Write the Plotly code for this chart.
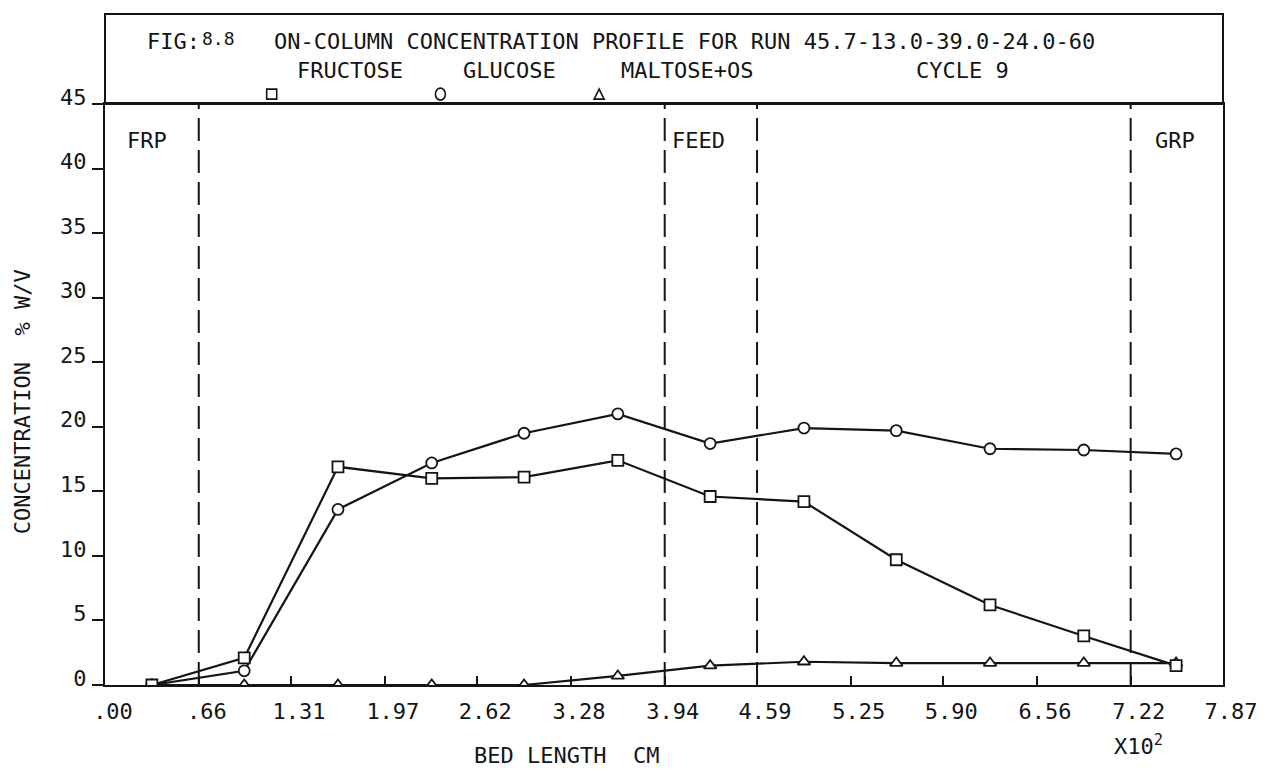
import plotly.graph_objects as go

# Bed position of each sampling port (units of 10^2 cm)
bed_position = [0.33, 0.98, 1.64, 2.30, 2.95, 3.61, 4.26, 4.92, 5.57, 6.23, 6.89, 7.54]

# Concentrations, % w/v
fructose = [0.0, 2.1, 16.9, 16.0, 16.1, 17.4, 14.6, 14.2, 9.7, 6.2, 3.8, 1.5]
glucose = [0.0, 1.1, 13.6, 17.2, 19.5, 21.0, 18.7, 19.9, 19.7, 18.3, 18.2, 17.9]
maltose_os = [0.0, 0.0, 0.0, 0.0, 0.0, 0.7, 1.5, 1.8, 1.7, 1.7, 1.7, 1.7]

# Zone boundaries (10^2 cm)
zone_bounds = [0.66, 3.94, 4.59, 7.22]
zone_labels = [("FRP", 0.14, "left"), ("FEED", 3.98, "left"), ("GRP", 7.69, "right")]

x_ticktext = [".00", ".66", "1.31", "1.97", "2.62", "3.28", "3.94",
              "4.59", "5.25", "5.90", "6.56", "7.22", "7.87"]
y_ticks = [0, 5, 10, 15, 20, 25, 30, 35, 40, 45]

FONT = "DejaVu Sans Mono, Liberation Mono, monospace"
INK = "#151515"
FS = 22

fig = go.Figure()

series = [
    ("MALTOSE+OS", maltose_os, "triangle-up"),
    ("GLUCOSE", glucose, "circle"),
    ("FRUCTOSE", fructose, "square"),
]
for name, vals, sym in series:
    fig.add_trace(go.Scatter(
        x=bed_position, y=vals, name=name, mode="lines+markers",
        line=dict(color=INK, width=2.2),
        marker=dict(symbol=sym, size=11, color="white",
                    line=dict(color=INK, width=1.8)),
    ))

shapes = []
for xb in zone_bounds:
    shapes.append(dict(type="line", xref="x", yref="paper", x0=xb, x1=xb,
                       y0=0, y1=1, line=dict(color=INK, width=2, dash="23px,9px")))

# header box above the plot
TOP = 1.155
shapes.append(dict(type="rect", xref="paper", yref="paper", x0=0, x1=1,
                   y0=1, y1=TOP, line=dict(color=INK, width=2)))

# legend glyphs in the header
def px2x(px):
    return (px - 105) / 1120.0

LEG_Y = 1.017
shapes.append(dict(type="rect", xref="paper", yref="paper", xsizemode="pixel",
                   ysizemode="pixel", xanchor=px2x(272), yanchor=LEG_Y,
                   x0=-5, x1=5, y0=-5, y1=5, line=dict(color=INK, width=1.6)))
shapes.append(dict(type="circle", xref="paper", yref="paper", xsizemode="pixel",
                   ysizemode="pixel", xanchor=px2x(441), yanchor=LEG_Y,
                   x0=-5, x1=5, y0=-6, y1=6, line=dict(color=INK, width=1.6)))
shapes.append(dict(type="path", xref="paper", yref="paper", xsizemode="pixel",
                   ysizemode="pixel", xanchor=px2x(600), yanchor=LEG_Y,
                   path="M -5,-5 L 5,-5 L 0,5 Z", line=dict(color=INK, width=1.6)))

annotations = []

def txt(text, px, y, size=FS, anchor="left", **kw):
    annotations.append(dict(text=text, xref="paper", yref="paper", x=px2x(px), y=y,
                            xanchor=anchor, yanchor="middle", showarrow=False,
                            font=dict(family=FONT, size=size, color=INK), **kw))

TITLE_Y = 1.108
txt("FIG:", 145, TITLE_Y)
txt("8.8", 200, TITLE_Y + 0.004, size=18)
txt("ON-COLUMN CONCENTRATION PROFILE FOR RUN 45.7-13.0-39.0-24.0-60", 272, TITLE_Y)

LEG_TY = 1.057
txt("FRUCTOSE", 295, LEG_TY)
txt("GLUCOSE", 462, LEG_TY)
txt("MALTOSE+OS", 620, LEG_TY)
txt("CYCLE 9", 915, LEG_TY)

for label, xv, anc in zone_labels:
    annotations.append(dict(text=label, xref="x", yref="paper", x=xv, y=0.937,
                            xanchor=anc, yanchor="middle", showarrow=False,
                            font=dict(family=FONT, size=FS, color=INK)))

txt("BED LENGTH  CM", 567, -0.122, anchor="center")
txt("X10<sup>2</sup>", 1140, -0.104, anchor="center")
annotations.append(dict(text="CONCENTRATION  % W/V", xref="paper", yref="paper",
                        x=px2x(22), y=0.487, textangle=-90, xanchor="center",
                        yanchor="middle", showarrow=False,
                        font=dict(family=FONT, size=FS, color=INK)))

fig.update_layout(
    width=1269, height=774,
    margin=dict(l=105, r=44, t=104, b=89),
    paper_bgcolor="white", plot_bgcolor="white",
    showlegend=False,
    shapes=shapes, annotations=annotations,
    xaxis=dict(
        range=[0, 7.87],
        tickvals=[float(t) for t in x_ticktext], ticktext=x_ticktext,
        ticks="inside", ticklen=9, tickwidth=1.6, tickcolor=INK,
        showline=True, linewidth=2, linecolor=INK, mirror=True,
        showgrid=False, zeroline=False,
        tickfont=dict(family=FONT, size=FS, color=INK),
        ticklabelshift=8, ticklabelstandoff=6,
    ),
    yaxis=dict(
        range=[0, 45],
        tickvals=y_ticks, ticktext=[str(v) for v in y_ticks],
        ticks="outside", ticklen=11, tickwidth=1.6, tickcolor=INK,
        showline=True, linewidth=2, linecolor=INK, mirror=True,
        showgrid=False, zeroline=False,
        tickfont=dict(family=FONT, size=FS, color=INK),
        ticklabelshift=-7, ticklabelstandoff=1,
    ),
)

fig.write_html("out.html")
